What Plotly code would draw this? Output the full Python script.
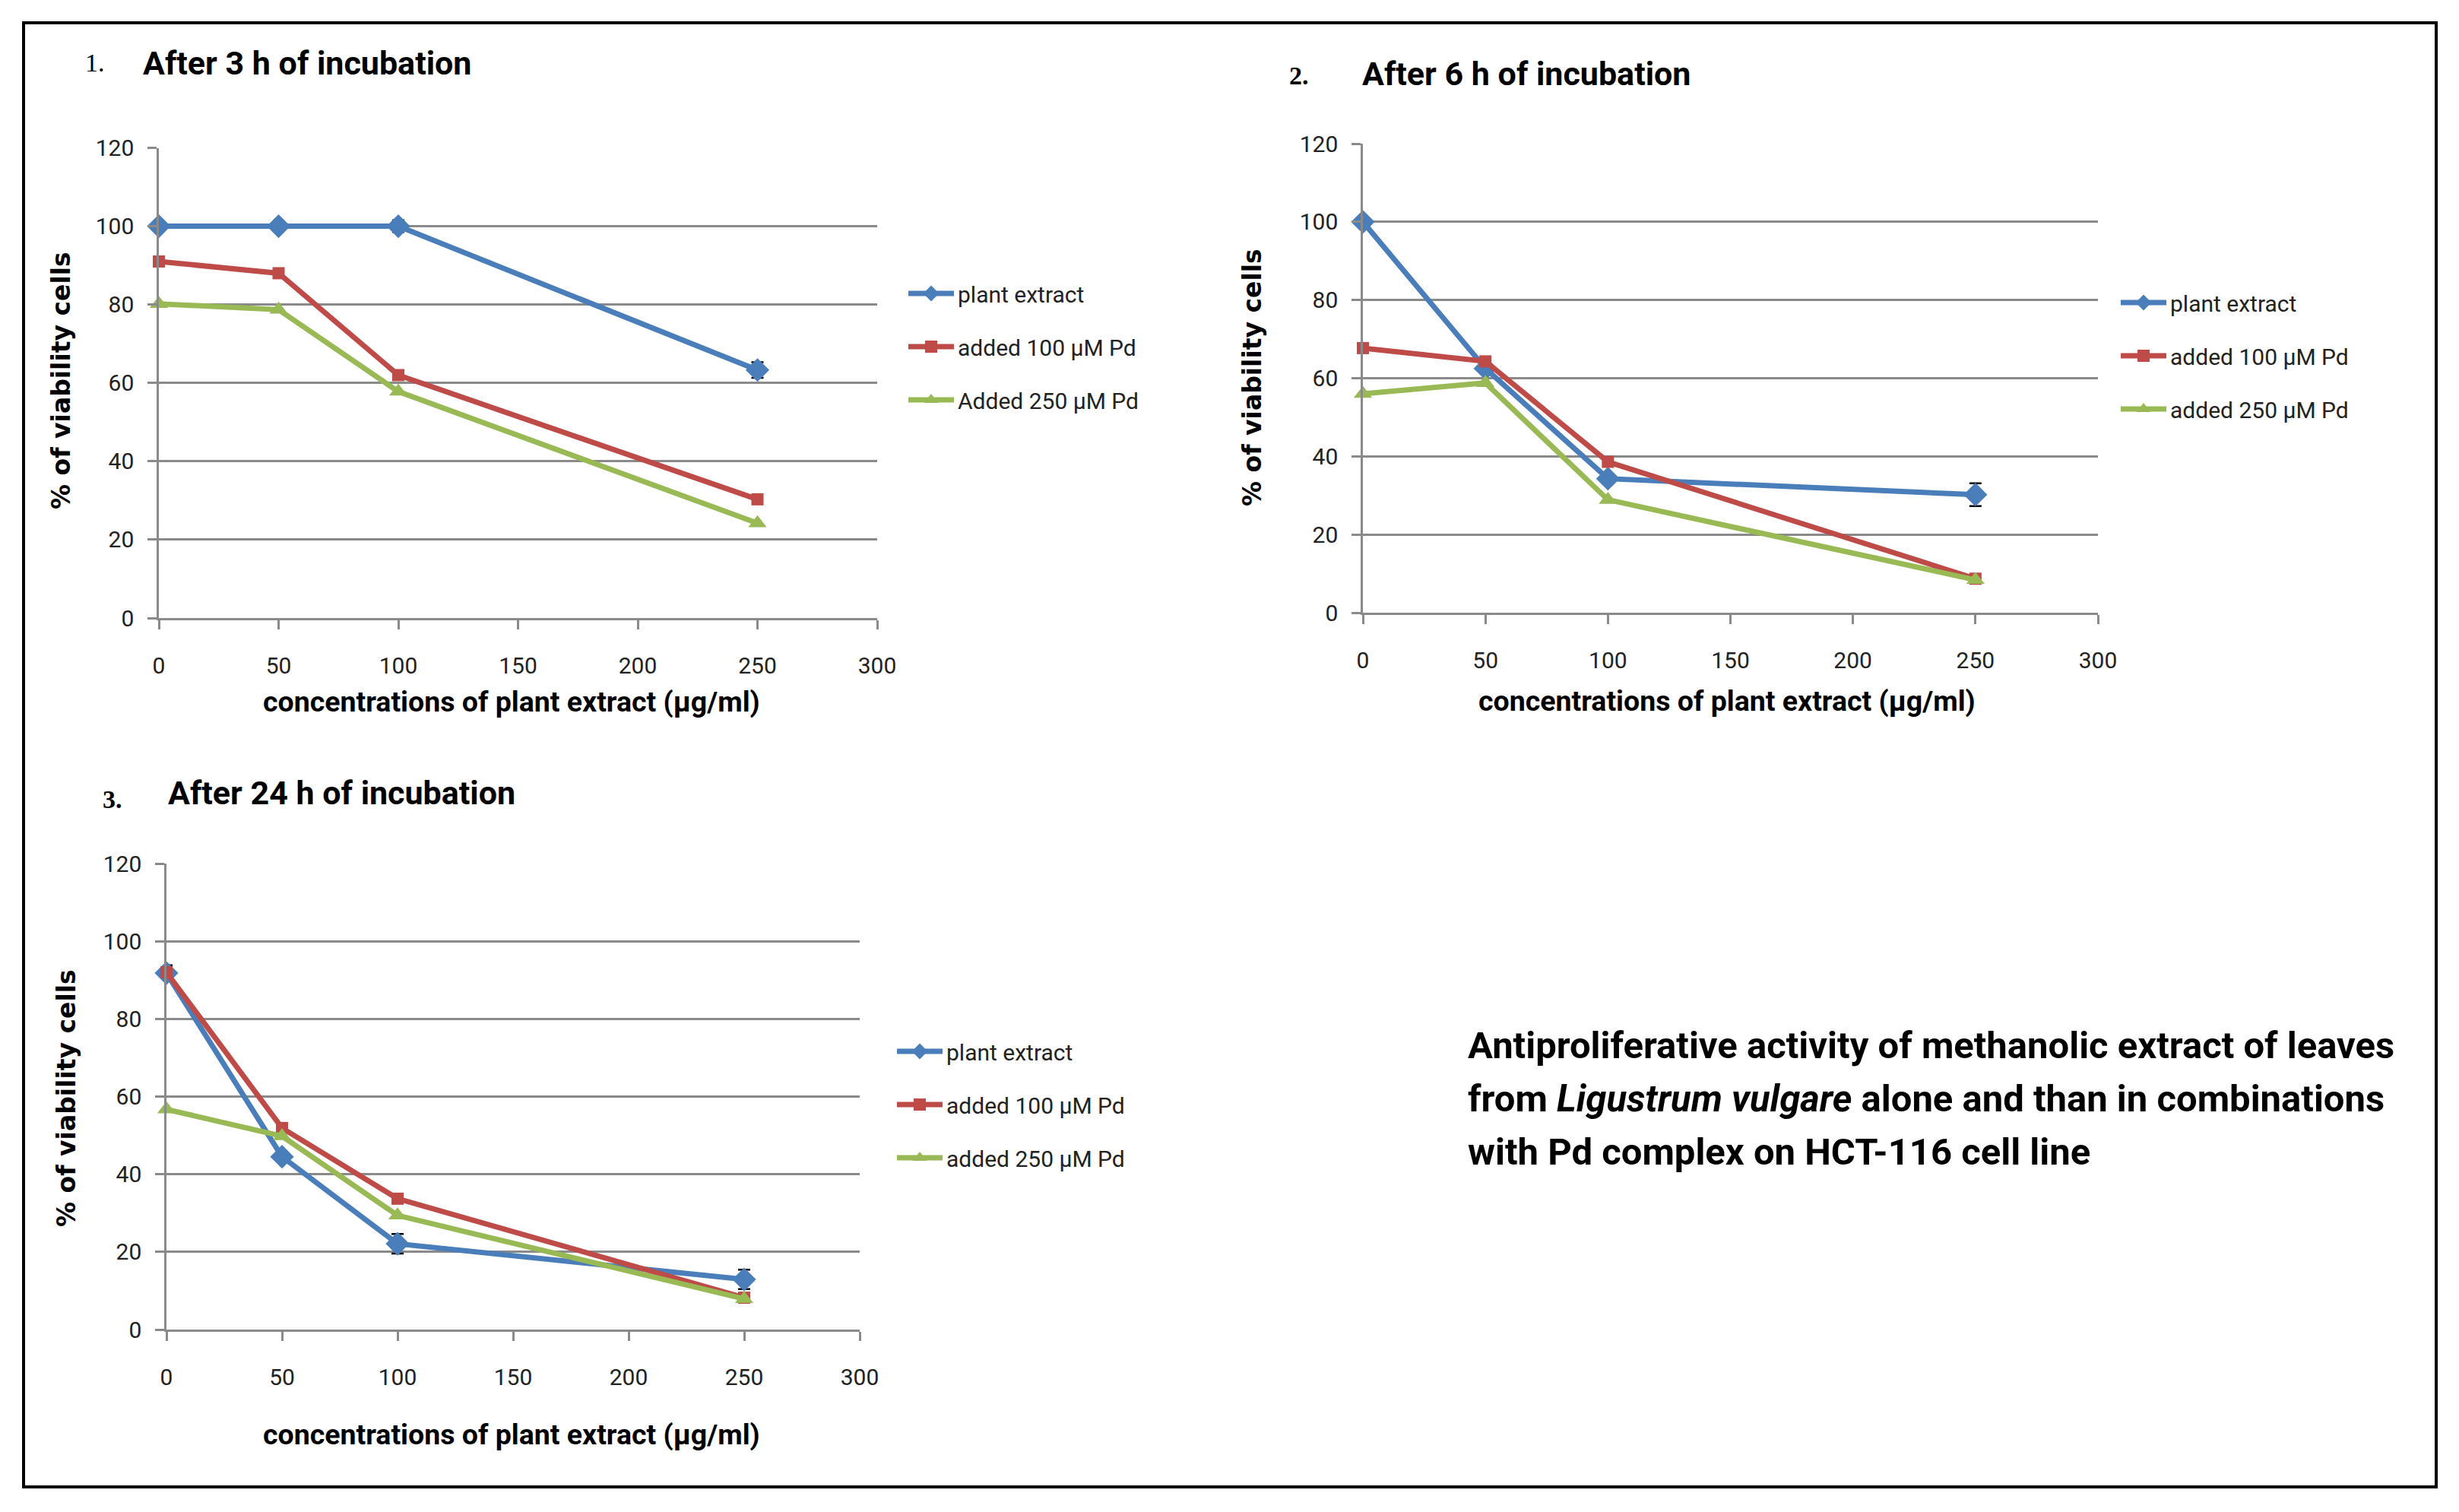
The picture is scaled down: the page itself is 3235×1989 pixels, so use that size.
import plotly.graph_objects as go

W, H = 3235, 1989

# ---------------- data ----------------
conc = [0, 50, 100, 250]
names_p1 = ["plant extract", "added 100 µM Pd", "Added 250 µM Pd"]
names = ["plant extract", "added 100 µM Pd", "added 250 µM Pd"]

h3_plant = [100, 100, 100, 63.3]
h3_pd100 = [91, 88, 62, 30.3]
h3_pd250 = [80.2, 78.7, 57.8, 24.2]
h3_plant_err = [None, None, 1.5, 2.0]

h6_plant = [100, 62.5, 34.3, 30.2]
h6_pd100 = [67.7, 64.3, 38.6, 8.7]
h6_pd250 = [56.0, 58.8, 28.9, 8.4]
h6_plant_err = [None, None, None, 2.9]

h24_plant = [91.8, 44.5, 22.1, 12.9]
h24_pd100 = [92.0, 51.9, 33.7, 8.2]
h24_pd250 = [56.7, 49.8, 29.4, 7.9]
h24_plant_err = [2.0, None, 2.5, 2.5]

x_ticks = [0, 50, 100, 150, 200, 250, 300]
y_ticks = [0, 20, 40, 60, 80, 100, 120]

panel_titles = ["After 3 h of incubation", "After 6 h of incubation", "After 24 h of incubation"]
panel_nums = ["1.", "2.", "3."]
x_title = "concentrations of plant extract (µg/ml)"
y_title = "% of viability cells"
caption_lines = [
    "Antiproliferative activity of methanolic extract of leaves",
    "from <i>Ligustrum vulgare</i> alone and than in combinations",
    "with Pd complex on HCT-116 cell line",
]

# ---------------- style ----------------
BLUE, RED, GREEN = "#4A7EBB", "#BE4B48", "#98B954"
GRID = "#8a8a8a"
NARROW = "Roboto, sans-serif"
WIDE = "DejaVu Sans, Verdana, sans-serif"


def px(x):
    return x / W


def py(y):
    return 1 - y / H


fig = go.Figure()

panels = [
    dict(data=[h3_plant, h3_pd100, h3_pd250], err=h3_plant_err, names=names_p1,
         xd=[px(209), px(1154)], yd=[py(813), py(194.5)], leg=(1190, 360)),
    dict(data=[h6_plant, h6_pd100, h6_pd250], err=h6_plant_err, names=names,
         xd=[px(1793), px(2760)], yd=[py(806), py(189)], leg=(2785, 372)),
    dict(data=[h24_plant, h24_pd100, h24_pd250], err=h24_plant_err, names=names,
         xd=[px(219), px(1131)], yd=[py(1749), py(1136)], leg=(1175, 1357)),
]

colors = [BLUE, RED, GREEN]
symbols = ["diamond", "square", "triangle-up"]
msizes = [24, 16, 21]

for i, p in enumerate(panels):
    s = "" if i == 0 else str(i + 1)
    lg = "legend" if i == 0 else f"legend{i + 1}"
    for j in range(3):
        tr = dict(
            x=conc, y=p["data"][j], mode="lines+markers", name=p["names"][j],
            line=dict(color=colors[j], width=7),
            marker=dict(symbol=symbols[j], size=msizes[j], color=colors[j]),
            xaxis=f"x{s}", yaxis=f"y{s}", legend=lg, legendgroup=f"g{i}{j}",
            cliponaxis=False,
        )
        if j == 0:
            tr["error_y"] = dict(type="data", array=p["err"], visible=True,
                                 color="black", thickness=2.5, width=8)
        fig.add_trace(go.Scatter(**tr))

    fig.layout[f"xaxis{s}"] = dict(
        domain=p["xd"], range=[0, 300], tickvals=x_ticks, showgrid=False,
        showline=True, linecolor=GRID, linewidth=2.5, ticks="outside", ticklen=12,
        tickwidth=2.5, tickcolor=GRID, zeroline=False, anchor=f"y{s}",
        tickfont=dict(family=NARROW, size=30, color="#222"), ticklabelstandoff=22,
        automargin=False,
    )
    fig.layout[f"yaxis{s}"] = dict(
        domain=p["yd"], range=[0, 120], tickvals=y_ticks, showgrid=True,
        gridcolor=GRID, gridwidth=2.5, showline=True, linecolor=GRID, linewidth=2.5,
        ticks="outside", ticklen=12, tickwidth=2.5, tickcolor=GRID, zeroline=False,
        anchor=f"x{s}", tickfont=dict(family=NARROW, size=30, color="#222"),
        ticklabelstandoff=12, automargin=False,
    )
    fig.layout[lg] = dict(
        x=px(p["leg"][0]), y=py(p["leg"][1]), xanchor="left", yanchor="top",
        font=dict(family=NARROW, size=30, color="#222"), tracegroupgap=28,
        bgcolor="rgba(0,0,0,0)", itemwidth=60,
    )

ann = []
# panel titles
title_pos = [((110, 83), (186, 83)), ((1694, 99), (1790, 97)), ((133, 1051), (219, 1043))]
for i in range(3):
    (nx, ny), (tx, ty) = title_pos[i]
    ann.append(dict(x=px(nx), y=py(ny), text=panel_nums[i], showarrow=False,
                    xanchor="left", yanchor="middle", xref="paper", yref="paper",
                    font=dict(family="Liberation Serif, serif", size=34, color="black",
                              weight="bold" if i > 0 else "normal")))
    ann.append(dict(x=px(tx), y=py(ty), text=panel_titles[i], showarrow=False,
                    xanchor="left", yanchor="middle", xref="paper", yref="paper",
                    font=dict(family=NARROW, size=43, color="black", weight="bold")))

# axis titles
xt_pos = [(673, 923), (2272, 922), (673, 1887)]
yt_pos = [(80, 501), (1647, 496), (87, 1445)]
for i in range(3):
    ann.append(dict(x=px(xt_pos[i][0]), y=py(xt_pos[i][1]), text=x_title, showarrow=False,
                    xanchor="center", yanchor="middle", xref="paper", yref="paper",
                    font=dict(family=NARROW, size=37.5, color="black", weight="bold")))
    ann.append(dict(x=px(yt_pos[i][0]), y=py(yt_pos[i][1]), text=y_title, showarrow=False,
                    textangle=-90, xanchor="center", yanchor="middle", xref="paper",
                    yref="paper",
                    font=dict(family=WIDE, size=33, color="black", weight="bold")))

# caption
cap_y = [1375, 1445, 1515]
for k, line in enumerate(caption_lines):
    ann.append(dict(x=px(1929), y=py(cap_y[k]), text=line, showarrow=False,
                    xanchor="left", yanchor="middle", xref="paper", yref="paper",
                    font=dict(family=NARROW, size=49, color="black", weight="bold")))

fig.update_layout(
    width=W, height=H, margin=dict(l=0, r=0, t=0, b=0, pad=0, autoexpand=False),
    paper_bgcolor="white", plot_bgcolor="white", showlegend=True,
    annotations=ann,
    shapes=[dict(type="rect", xref="paper", yref="paper", x0=px(31), x1=px(3205),
                 y0=py(1956), y1=py(30), line=dict(color="black", width=4))],
)

fig.write_html(
    "out.html",
    config={"displayModeBar": False},
    post_script="document.body.style.margin='0';document.body.style.overflow='hidden';",
)
